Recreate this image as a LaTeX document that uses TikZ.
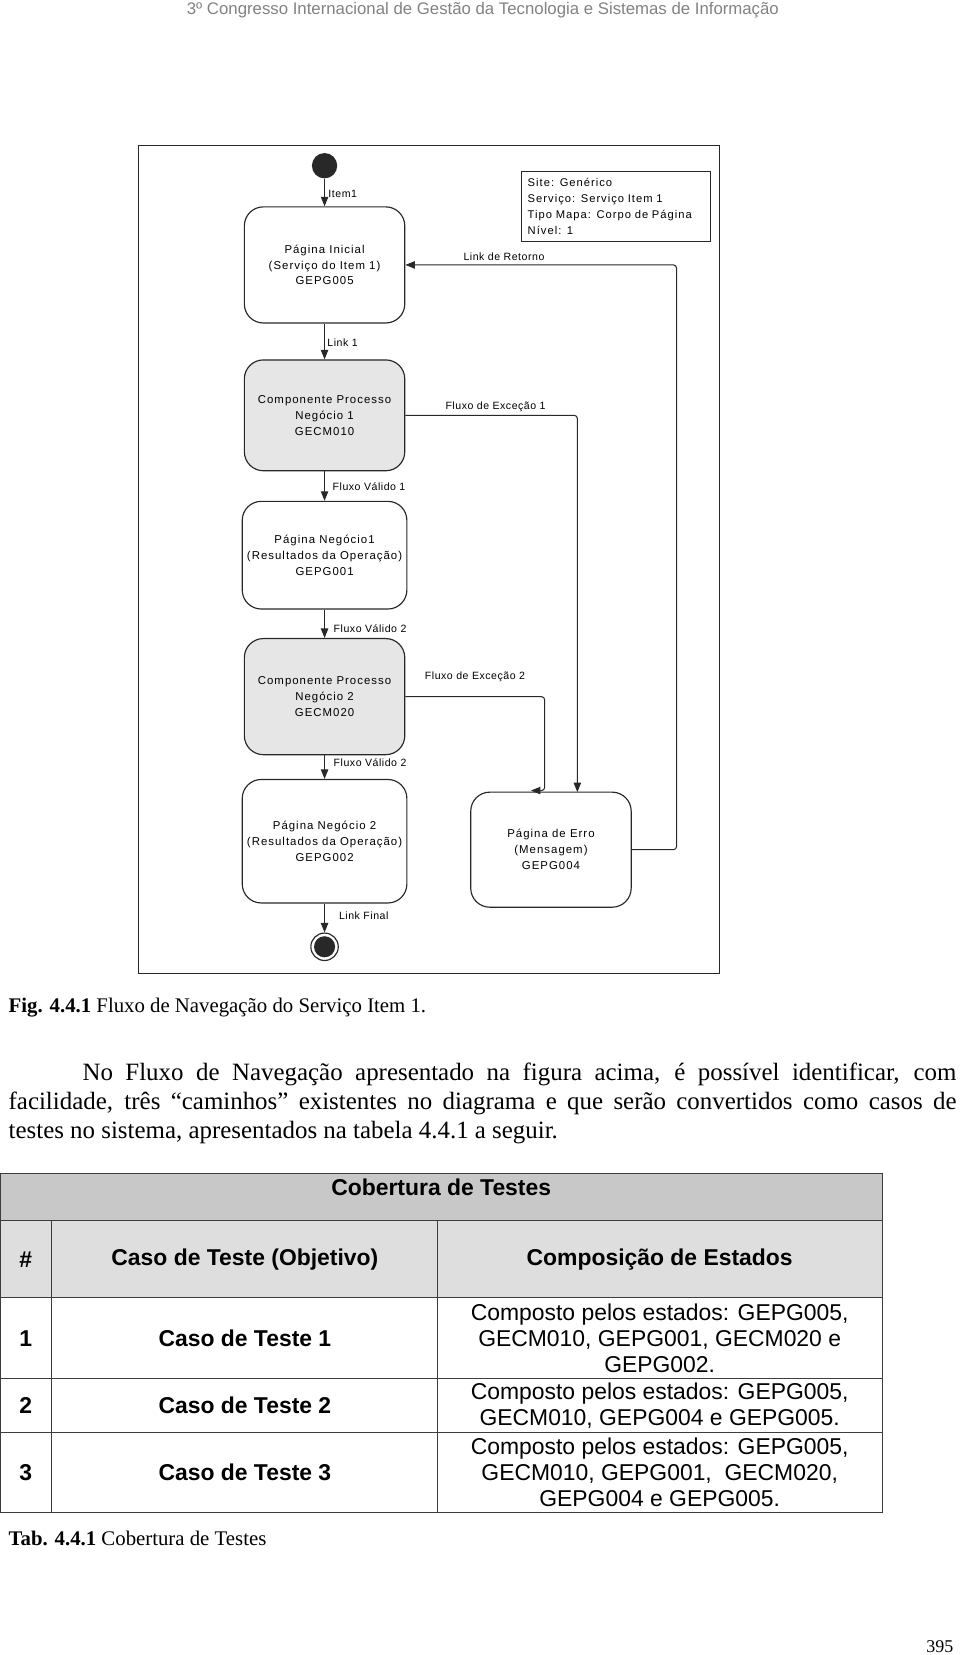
\documentclass[tikz,border=0pt]{standalone}
\usepackage{fontspec}
\setmainfont{Liberation Serif}
\newfontfamily\diagfont{Liberation Sans}[LetterSpace=9]
\newfontfamily\rotfont{Liberation Sans}[LetterSpace=5]
\newfontfamily\arialfont{Liberation Sans}
\usetikzlibrary{arrows.meta}
\definecolor{cinzaestado}{RGB}{230,230,230}
\definecolor{cinzatitulo}{RGB}{200,200,200}
\definecolor{cinzacab}{RGB}{222,222,222}
\definecolor{cabecalho}{RGB}{130,130,130}
\definecolor{traco}{RGB}{40,40,40}

\begin{document}
\begin{tikzpicture}[x=1pt,y=-1pt,
  estado/.style={draw=traco, line width=1.1pt, rounded corners=18pt, minimum width=152pt, minimum height=105pt, inner sep=0pt, align=center, font=\diagfont\fontsize{10.8}{15}\selectfont},
  processo/.style={estado, fill=cinzaestado},
  rotulo/.style={inner sep=0pt, font=\rotfont\fontsize{10}{12}\selectfont},
  seta/.style={draw=traco, line width=1pt, -{Triangle[length=9pt,width=7pt]}},
  tabela/.style={draw=traco!90, line width=1.2pt},
  celula/.style={inner sep=0pt, align=center, font=\arialfont\fontsize{21.7}{25}\selectfont},
  cabcelula/.style={celula, font=\arialfont\bfseries\fontsize{21.7}{25}\selectfont}]
\useasboundingbox (0,0) rectangle (910,1568);

\node[anchor=base, inner sep=0pt, text=cabecalho, font=\arialfont\fontsize{15.9}{18}\selectfont] (congresso) at (457.5,14) {3º Congresso Internacional de Gestão da Tecnologia e Sistemas de Informação};

\draw[traco, line width=1.1pt] (131,138) rectangle (681.5,922);

\node[circle, fill=traco, minimum size=24pt, inner sep=0pt] (inicio) at (307.5,157) {};
\node[estado, minimum height=110pt] (ini) at (307.5,251) {Página Inicial\\(Serviço do Item 1)\\GEPG005};
\node[processo] (cpn1) at (307.5,393.5) {Componente Processo\\Negócio 1\\GECM010};
\node[estado, minimum width=156pt, minimum height=102pt] (pn1) at (307.5,526) {Página Negócio1\\(Resultados da Operação)\\GEPG001};
\node[processo, minimum height=110pt] (cpn2) at (307.5,660) {Componente Processo\\Negócio 2\\GECM020};
\node[estado, minimum width=156pt, minimum height=117pt] (pn2) at (307.5,797) {Página Negócio 2\\(Resultados da Operação)\\GEPG002};
\node[estado, minimum height=109pt] (erro) at (522,805) {Página de Erro\\(Mensagem)\\GEPG004};
\node[circle, draw=traco, line width=1.1pt, minimum size=26pt, inner sep=0pt] (fim) at (307.5,897) {};
\fill[traco] (fim) circle (10pt);

\node[draw=traco, line width=0.9pt, align=left, text width=167pt, inner xsep=6pt, inner ysep=0pt, minimum height=67pt, font=\diagfont\fontsize{10.6}{15}\selectfont] (info) at (583.5,195.5) {Site: Genérico\\Serviço: Serviço Item 1\\Tipo Mapa: Corpo de Página\\Nível: 1};

\coordinate (retorno) at (641,251);
\coordinate (exc1) at (547,750.5);
\coordinate (exc2a) at (516,749);
\coordinate (exc2b) at (503,749);

\draw[seta] (inicio) -- (ini);
\draw[seta] (ini) -- (cpn1);
\draw[seta] (cpn1) -- (pn1);
\draw[seta] (pn1) -- (cpn2);
\draw[seta] (cpn2) -- (pn2);
\draw[seta] (pn2) -- (fim);
\draw[seta, rounded corners=3pt] (cpn1.east) -| (exc1);
\draw[seta, rounded corners=3pt] (cpn2.east) -| (exc2a) -- (exc2b);
\draw[seta, rounded corners=3pt] (erro.east) -| (retorno) -- (ini.east);

\node[rotulo, anchor=west] (litem) at (311,184) {Item1};
\node[rotulo, anchor=west] (llink1) at (310,325) {Link 1};
\node[rotulo, anchor=west] (lvalido1) at (315,461) {Fluxo Válido 1};
\node[rotulo, anchor=west] (lvalido2) at (316,596) {Fluxo Válido 2};
\node[rotulo, anchor=west] (lvalido3) at (316,723) {Fluxo Válido 2};
\node[rotulo, anchor=west] (lfinal) at (321,868) {Link Final};
\node[rotulo] (lretorno) at (477.5,243) {Link de Retorno};
\node[rotulo] (lexc1) at (469.5,385) {Fluxo de Exceção 1};
\node[rotulo] (lexc2) at (450,641.5) {Fluxo de Exceção 2};

\node[anchor=base west, inner sep=0pt, font=\fontsize{19.7}{22}\selectfont] (legfig) at (8,959.5) {\textbf{Fig. 4.4.1} Fluxo de Navegação do Serviço Item 1.};

\node[anchor=north west, inner sep=0pt, align=left, font=\fontsize{23.6}{27.5}\selectfont] (paragrafo) at (8,1007) {\hspace*{70pt}\makebox[828pt][s]{No Fluxo de Navegação apresentado na figura acima, é possível identificar, com}\\\makebox[898pt][s]{facilidade, três “caminhos” existentes no diagrama e que serão convertidos como casos de}\\testes no sistema, apresentados na tabela 4.4.1 a seguir.};

\fill[cinzatitulo] (0,1112) rectangle (836,1156);
\fill[cinzacab] (0,1156) rectangle (836,1229.5);
\draw[tabela] (0.6,1112) rectangle (836,1433);
\foreach \y in {1156,1229.5,1306,1357}
  \draw[tabela] (0.6,\y) -- (836,\y);
\foreach \x in {49,414.5}
  \draw[tabela] (\x,1156) -- (\x,1433);

\node[cabcelula] (titulo) at (418,1125) {Cobertura de Testes};
\node[cabcelula] (cabnum) at (24.5,1193) {\#};
\node[cabcelula] (cabcaso) at (232,1193) {Caso de Teste (Objetivo)};
\node[cabcelula] (cabcomp) at (625,1193) {Composição de Estados};
\node[cabcelula] (num1) at (24.5,1268) {1};
\node[cabcelula] (caso1) at (232,1268) {Caso de Teste 1};
\node[celula] (comp1) at (625,1268) {Composto pelos estados: GEPG005,\\GECM010, GEPG001, GECM020 e\\GEPG002.};
\node[cabcelula] (num2) at (24.5,1331.5) {2};
\node[cabcelula] (caso2) at (232,1331.5) {Caso de Teste 2};
\node[celula] (comp2) at (625,1331.5) {Composto pelos estados: GEPG005,\\GECM010, GEPG004 e GEPG005.};
\node[cabcelula] (num3) at (24.5,1395) {3};
\node[cabcelula] (caso3) at (232,1395) {Caso de Teste 3};
\node[celula] (comp3) at (625,1395) {Composto pelos estados: GEPG005,\\GECM010, GEPG001,\ \ GECM020,\\GEPG004 e GEPG005.};

\node[anchor=base west, inner sep=0pt, font=\fontsize{19.7}{22}\selectfont] (legtab) at (8,1464) {\textbf{Tab. 4.4.1} Cobertura de Testes};

\node[anchor=base, inner sep=0pt, font=\fontsize{17}{20}\selectfont] (pagina) at (890.5,1566) {395};
\end{tikzpicture}
\end{document}
